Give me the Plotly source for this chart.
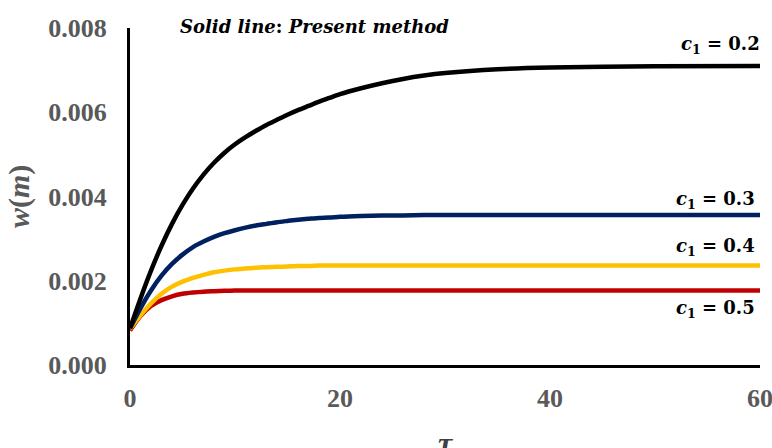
import plotly.graph_objects as go

tau = [0, 1, 2, 3, 4, 5, 6, 7, 8, 9, 10, 11, 12, 13, 14, 15, 16, 17, 18, 19, 20,
       22, 24, 26, 28, 30, 35, 40, 50, 60]
w_c02 = [0.00087, 0.00158, 0.00224, 0.00283, 0.00335, 0.0038, 0.00419, 0.00452, 0.0048, 0.00504,
         0.00524, 0.00541, 0.00556, 0.0057, 0.00582, 0.00594, 0.00605, 0.00615, 0.00625, 0.00634,
         0.00643, 0.00657, 0.00669, 0.00679, 0.00687, 0.00693, 0.00702, 0.00706, 0.00709, 0.0071]
w_c03 = [0.00087, 0.00135, 0.00177, 0.00212, 0.0024, 0.00262, 0.0028, 0.00293, 0.00304, 0.00313,
         0.0032, 0.00326, 0.00331, 0.00335, 0.00339, 0.00342, 0.00345, 0.00347, 0.00349, 0.0035,
         0.00352, 0.00354, 0.00355, 0.00355, 0.00356, 0.00356, 0.00356, 0.00356, 0.00356, 0.00356]
w_c04 = [0.00086, 0.00118, 0.00146, 0.00169, 0.00186, 0.00198, 0.00207, 0.00214, 0.0022, 0.00224,
         0.00227, 0.00229, 0.00231, 0.00232, 0.00233, 0.00234, 0.00235, 0.00235, 0.00236, 0.00236,
         0.00236, 0.00236, 0.00236, 0.00236, 0.00236, 0.00236, 0.00236, 0.00236, 0.00236, 0.00236]
w_c05 = [0.00082, 0.00116, 0.0014, 0.00154, 0.00163, 0.00169, 0.00172, 0.00174, 0.00175, 0.00176,
         0.00177, 0.00177, 0.00177, 0.00177, 0.00177, 0.00177, 0.00177, 0.00177, 0.00177, 0.00177,
         0.00177, 0.00177, 0.00177, 0.00177, 0.00177, 0.00177, 0.00177, 0.00177, 0.00177, 0.00177]

series = [
    ("c1 = 0.2", w_c02, "#000000"),
    ("c1 = 0.3", w_c03, "#002060"),
    ("c1 = 0.4", w_c04, "#FFC000"),
    ("c1 = 0.5", w_c05, "#C00000"),
]
y_ticks = [0, 0.002, 0.004, 0.006, 0.008]
x_ticks = [0, 20, 40, 60]

fig = go.Figure()
for name, ys, col in series[::-1]:
    fig.add_trace(go.Scatter(x=tau, y=ys, mode="lines", name=name,
                             line=dict(color=col, width=4.5, shape="spline", smoothing=0.6)))

serif = "Liberation Serif"
mathserif = "DejaVu Serif"
gray = "#595959"
fig.update_layout(
    width=772, height=448,
    margin=dict(l=130, r=12, t=28, b=83, autoexpand=False),
    paper_bgcolor="white", plot_bgcolor="white",
    showlegend=False,
    xaxis=dict(range=[0, 60], tickvals=x_ticks, showgrid=False, zeroline=False,
               showline=True, linecolor="black", linewidth=3, ticks="", automargin=False,
               ticklabelstandoff=8, ticklabeloverflow="allow",
               tickfont=dict(family=serif, size=26, color=gray, weight="bold")),
    yaxis=dict(range=[0, 0.008], tickvals=y_ticks, tickformat=".3f", showgrid=False,
               zeroline=False, showline=True, linecolor="black", linewidth=3, ticks="",
               automargin=False, ticklabelstandoff=15,
               tickfont=dict(family=serif, size=26, color=gray, weight="bold")),
)

ann_font = dict(family=mathserif, size=18, color="black", weight="bold")
labels = [
    ("<i>c</i><sub>1</sub> = 0.2", 0.0076, 1.003),
    ("<i>c</i><sub>1</sub> = 0.3", 0.00392, 0.996),
    ("<i>c</i><sub>1</sub> = 0.4", 0.00281, 0.996),
    ("<i>c</i><sub>1</sub> = 0.5", 0.00132, 0.996),
]
for txt, yv, xp in labels:
    fig.add_annotation(text=txt, xref="paper", x=xp, xanchor="right",
                       yref="y", y=yv, yanchor="middle", showarrow=False, font=ann_font)

fig.add_annotation(text="<i>Solid line</i>: <i>Present method</i>", xref="paper", x=(178 - 130) / 630,
                   xanchor="left", yref="paper", y=1.003, yanchor="middle", showarrow=False,
                   font=dict(family=mathserif, size=18, color="black", weight="bold"))
fig.add_annotation(text="<i>w</i>(<i>m</i>)", xref="paper", x=-0.177, xanchor="center",
                   yref="paper", y=0.5, yanchor="middle", textangle=-90, showarrow=False,
                   font=dict(family=serif, size=30, color=gray, weight="bold"))
fig.add_annotation(text="<i>τ</i>", xref="paper", x=0.502, xanchor="center",
                   yref="paper", y=-0.23, yanchor="middle", showarrow=False,
                   font=dict(family=serif, size=32, color="#404040", weight="bold"))

fig.write_html("out.html", config={"displayModeBar": False},
               post_script="document.body.style.margin='0px';")
